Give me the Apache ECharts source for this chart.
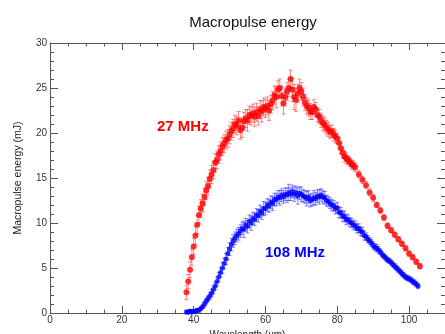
<!DOCTYPE html>
<html><head><meta charset="utf-8">
<script src="https://cdn.jsdelivr.net/npm/echarts@6/dist/echarts.min.js"></script>
<style>html,body{margin:0;padding:0;background:#fff}#c{width:445px;height:334px}</style>
</head><body><div id="c"></div>
<script>
// 27 MHz: wavelength (um), macropulse energy (mJ), error (mJ)
const redX = [
38,38.5,39,39.5,40,40.5,41,41.5,42,42.5,
43,43.5,44,44.5,45,45.5,46,46.5,47,47.5,
48,48.5,49,49.5,50,50.5,51,51.5,52,52.5,
53,53.5,54,54.5,55,55.5,56,56.5,57,57.5,
58,58.5,59,59.5,60,60.5,61,61.5,62,62.5,
63,63.5,64,64.5,65,65.5,66,66.5,67,67.5,
68,68.5,69,69.5,70,70.5,71,71.5,72,72.5,
73,73.5,74,74.5,75,75.5,76,76.5,77,77.5,
78,78.5,79,79.5,80,80.5,81,81.5,82,82.5,
83,83.5,84,84.5,85,86,87,88,89,90,
91,92,93,94,95,96,97,98,99,100,
101,102,103];
const redY = [
2.3,3.5,4.8,6.2,7.4,8.6,9.8,10.9,11.6,12.2,
12.9,13.6,14.1,14.9,15.4,15.9,16.7,17.0,17.6,18.0,
18.5,18.8,19.2,19.4,19.8,20.2,20.5,21.0,20.8,21.4,
20.3,20.6,21.3,21.6,21.4,22.0,21.9,22.2,21.8,22.3,
21.9,22.6,22.4,22.9,22.7,23.0,22.5,23.2,23.6,24.2,
24.0,24.8,25.0,24.1,23.3,24.0,24.6,25.0,26.0,24.8,
24.0,23.7,24.4,25.0,24.6,24.0,23.4,23.0,22.8,22.4,
22.3,22.9,22.6,22.0,21.8,21.4,21.1,20.9,20.6,20.4,
20.1,20.2,19.8,19.6,19.4,18.9,18.3,17.8,17.4,17.2,
17.0,16.8,16.5,16.4,16.2,15.4,14.8,14.2,13.4,12.8,
12.0,11.4,10.6,9.7,9.2,8.7,8.2,7.7,7.2,6.6,
6.2,5.7,5.2];
const redErr = [
0.8,0.8,0.9,0.9,0.9,1.0,1.0,1.0,1.0,1.0,
1.0,1.0,1.0,1.0,1.0,1.0,1.0,1.0,1.0,1.0,
1.0,1.0,1.0,1.0,1.0,1.0,1.0,1.0,1.0,1.0,
1.0,1.1,1.0,1.0,1.2,1.0,1.0,1.0,1.1,1.0,
1.0,1.0,1.2,1.0,1.0,1.0,1.1,1.0,1.0,1.0,
1.2,1.0,1.0,1.1,1.2,1.0,1.0,1.0,1.0,1.3,
1.4,1.3,1.0,1.0,1.0,1.0,0.9,0.9,0.9,0.9,
0.8,0.8,0.8,0.8,0.8,0.8,0.8,0.8,0.8,0.8,
0.7,0.7,0.7,0.7,0.6,0.6,0.6,0.6,0.6,0.6,
0.5,0.5,0.5,0.5,0.5,0.4,0.4,0.4,0.4,0.4,
0.3,0.3,0.3,0.3,0.3,0.3,0.3,0.3,0.3,0.3,
0.3,0.3,0.3];
// 108 MHz
const blueX = [
38,38.5,39,39.5,40,40.5,41,41.5,42,42.5,
43,43.5,44,44.5,45,45.5,46,46.5,47,47.5,
48,48.5,49,49.5,50,50.5,51,51.5,52,52.5,
53,53.5,54,54.5,55,55.5,56,56.5,57,57.5,
58,58.5,59,59.5,60,60.5,61,61.5,62,62.5,
63,63.5,64,64.5,65,65.5,66,66.5,67,67.5,
68,68.5,69,69.5,70,70.5,71,71.5,72,72.5,
73,73.5,74,74.5,75,75.5,76,76.5,77,77.5,
78,78.5,79,79.5,80,80.5,81,81.5,82,82.5,
83,83.5,84,84.5,85,85.5,86,86.5,87,87.5,
88,88.5,89,89.5,90,90.5,91,91.5,92,92.5,
93,93.5,94,94.5,95,95.5,96,96.5,97,97.5,
98,98.5,99,99.5,100,100.5,101,101.5,102,102.5];
const blueY = [
0.1,0.1,0.2,0.1,0.2,0.2,0.3,0.3,0.5,0.7,
1.0,1.3,1.6,1.9,2.2,2.6,3.0,3.5,4.0,4.5,
5.0,5.5,6.0,6.6,7.1,7.6,8.0,8.3,8.6,8.8,
9.1,9.4,9.3,9.8,9.6,10.2,10.0,10.5,10.4,10.9,
10.8,11.3,11.1,11.6,11.6,12.0,11.9,12.3,12.2,12.6,
12.6,12.9,12.8,13.1,12.9,13.2,13.1,13.4,13.2,13.5,
13.2,13.4,13.0,13.3,13.2,13.0,12.9,12.7,12.9,12.5,
12.6,12.8,12.7,13.0,12.9,13.1,12.9,12.8,12.5,12.4,
12.2,12.0,11.9,11.6,11.7,11.2,11.1,10.8,10.7,10.4,
10.4,10.1,10.0,9.8,9.7,9.4,9.4,9.1,9.0,8.6,
8.5,8.2,8.0,7.8,7.5,7.3,7.2,7.0,6.8,6.5,
6.3,6.1,5.9,5.8,5.6,5.4,5.2,5.0,4.8,4.6,
4.4,4.2,4.0,3.9,3.8,3.7,3.5,3.4,3.2,3.0];
const blueErr = [
0.2,0.2,0.2,0.2,0.2,0.2,0.2,0.2,0.2,0.2,
0.3,0.3,0.3,0.4,0.4,0.4,0.4,0.5,0.5,0.5,
0.6,0.6,0.6,0.7,0.7,0.7,0.7,0.7,0.7,0.7,
0.7,0.7,0.9,0.7,0.7,0.7,0.8,0.7,0.7,0.7,
0.7,0.7,0.7,0.8,0.7,0.7,0.7,0.7,0.8,0.7,
0.7,0.7,0.8,0.7,0.7,0.7,0.8,0.9,0.7,0.7,
0.8,0.7,0.9,0.7,0.8,0.7,0.7,0.8,0.7,0.7,
0.7,0.8,0.7,0.7,0.8,0.7,0.7,0.7,0.6,0.6,
0.6,0.6,0.6,0.6,0.6,0.6,0.6,0.6,0.6,0.6,
0.5,0.5,0.5,0.5,0.5,0.5,0.5,0.5,0.5,0.5,
0.4,0.4,0.4,0.4,0.4,0.4,0.4,0.4,0.3,0.3,
0.3,0.3,0.3,0.3,0.3,0.3,0.3,0.3,0.3,0.3,
0.3,0.3,0.3,0.3,0.3,0.3,0.3,0.3,0.3,0.3];
const xTicks = [0,20,40,60,80,100];
const yTicks = [0,5,10,15,20,25,30];

const chart = echarts.init(document.getElementById('c'), null, {renderer:'canvas'});
const toPts = (xs, ys, es) => xs.map((x,i)=>[x, ys[i], es[i]]);
function errRender(color){
  return function(params, api){
    const x=api.value(0), y=api.value(1), e=api.value(2);
    const lo=api.coord([x,y-e]), hi=api.coord([x,y+e]);
    const w=2;
    const st={stroke:color, lineWidth:1, opacity:0.55};
    return {type:'group', children:[
      {type:'line', shape:{x1:lo[0],y1:lo[1],x2:hi[0],y2:hi[1]}, style:st},
      {type:'line', shape:{x1:lo[0]-w,y1:lo[1],x2:lo[0]+w,y2:lo[1]}, style:st},
      {type:'line', shape:{x1:hi[0]-w,y1:hi[1],x2:hi[0]+w,y2:hi[1]}, style:st}
    ]};
  };
}
const axCol = '#555';
const font = 'Liberation Sans, Arial, sans-serif';
const xBase = {type:'value', min:0, max:110, interval:20,
  axisLine:{show:true, onZero:false, lineStyle:{color:axCol, width:1}},
  axisTick:{show:true, inside:true, length:7, lineStyle:{color:axCol}},
  minorTick:{show:true, splitNumber:4, length:3.5, lineStyle:{color:axCol}},
  splitLine:{show:false}};
const yBase = {type:'value', min:0, max:30, interval:5,
  axisLine:{show:true, onZero:false, lineStyle:{color:axCol, width:1}},
  axisTick:{show:true, inside:true, length:8, lineStyle:{color:axCol}},
  minorTick:{show:true, splitNumber:5, length:4, lineStyle:{color:axCol}},
  splitLine:{show:false}};
chart.setOption({
  animation:false,
  backgroundColor:'#fff',
  title:{text:'Macropulse energy', left:248, top:10, textAlign:'center',
    textStyle:{fontFamily:font, fontSize:15, fontWeight:'normal', color:'#111'}},
  grid:{left:50, right:0, top:43, bottom:21, containLabel:false, outerBoundsMode:'none'},
  xAxis:[
    Object.assign({}, xBase, {position:'bottom', name:'Wavelength (um)', nameLocation:'middle', nameGap:14,
      nameTextStyle:{fontFamily:font, fontSize:10, color:'#222'},
      axisLabel:{fontFamily:font, fontSize:10, color:'#333', margin:2,
        formatter:v=> xTicks.indexOf(v)>=0 ? String(v) : ''}}),
    Object.assign({}, xBase, {position:'top', axisLabel:{show:false}})
  ],
  yAxis:[
    Object.assign({}, yBase, {position:'left', name:'Macropulse energy (mJ)', nameLocation:'middle', nameGap:26,
      nameTextStyle:{fontFamily:font, fontSize:10.5, color:'#222'},
      axisLabel:{fontFamily:font, fontSize:10, color:'#333', margin:3,
        formatter:v=> yTicks.indexOf(v)>=0 ? String(v) : ''}}),
    Object.assign({}, yBase, {position:'right', axisLabel:{show:false}})
  ],
  series:[
    {type:'custom', xAxisIndex:0, yAxisIndex:0, renderItem:errRender('#ff2020'), data:toPts(redX,redY,redErr), z:2},
    {type:'scatter', xAxisIndex:0, yAxisIndex:0, symbol:'circle', symbolSize:6, itemStyle:{color:'#ff0000'}, data:toPts(redX,redY,redErr), z:3},
    {type:'custom', xAxisIndex:0, yAxisIndex:0, renderItem:errRender('#2020ff'), data:toPts(blueX,blueY,blueErr), z:2},
    {type:'scatter', xAxisIndex:0, yAxisIndex:0, symbol:'circle', symbolSize:5, itemStyle:{color:'#0000ff'}, data:toPts(blueX,blueY,blueErr), z:3}
  ],
  graphic:[
    {type:'text', left:157, top:119, style:{text:'27 MHz', fill:'#ff0000', font:'bold 15px '+font}},
    {type:'text', left:265, top:245, style:{text:'108 MHz', fill:'#0000ff', font:'bold 15px '+font}}
  ]
});
</script></body></html>
